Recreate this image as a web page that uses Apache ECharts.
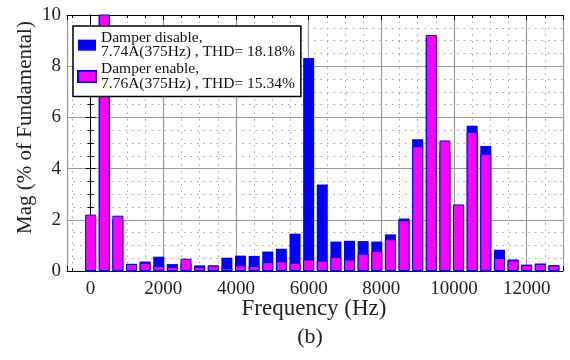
<!DOCTYPE html>
<html>
<head>
<meta charset="utf-8">
<script src="https://cdn.jsdelivr.net/npm/echarts@6/dist/echarts.min.js"></script>
<style>html,body{margin:0;padding:0;background:#fff}#c{width:570px;height:360px}</style>
</head>
<body>
<div id="c"></div>
<script>
// Harmonic frequencies (Hz)
var freqs = [0,375,750,1125,1500,1875,2250,2625,3000,3375,3750,4125,4500,4875,5250,5625,6000,6375,6750,7125,7500,7875,8250,8625,9000,9375,9750,10125,10500,10875,11250,11625,12000,12375,12750];
// Damper disable (% of fundamental)
var disableVals = [0.47,100,1.98,0.28,0.37,0.56,0.27,0.30,0.22,0.22,0.52,0.60,0.59,0.76,0.87,1.46,8.32,3.38,1.15,1.18,1.17,1.15,1.43,2.05,5.15,9.10,4.68,2.26,5.67,4.88,0.83,0.45,0.25,0.29,0.23];
// Damper enable (% of fundamental)
var enableVals = [2.20,100,2.16,0.27,0.32,0.20,0.16,0.48,0.16,0.21,0.11,0.22,0.20,0.35,0.38,0.32,0.45,0.41,0.55,0.45,0.68,0.78,1.24,1.98,4.87,9.22,5.10,2.60,5.44,4.58,0.51,0.42,0.23,0.28,0.22];
var seriesNames = ['Damper disable,\n7.74A(375Hz) , THD= 18.18%', 'Damper enable,\n7.76A(375Hz) , THD= 15.34%'];
var xTicks = [0,2000,4000,6000,8000,10000,12000];
var yTicks = [0,2,4,6,8,10];

var FONT = 'Liberation Serif';
function pairs(vals){ return freqs.map(function(f,i){ return [f, vals[i]]; }); }

var chart = echarts.init(document.getElementById('c'));
var xBase = {
  type:'value', min:-650, max:13000, splitNumber:7, minInterval:2000, maxInterval:2000,
  axisLine:{show:true, onZero:false, lineStyle:{color:'#000', width:1}},
  axisTick:{show:true, inside:true, length:5, lineStyle:{color:'#000'}},
  minorTick:{show:true, splitNumber:4, length:3, lineStyle:{color:'#000'}}
};
var yBase = {
  type:'value', min:0, max:10, interval:2,
  axisLine:{show:true, lineStyle:{color:'#000', width:1}},
  axisTick:{show:true, inside:true, length:5, lineStyle:{color:'#000'}},
  minorTick:{show:true, splitNumber:4, length:3, lineStyle:{color:'#000'}}
};
var option = {
  animation:false,
  backgroundColor:'#fff',
  textStyle:{fontFamily:FONT},
  grid:{left:67, right:7, top:15, bottom:89, containLabel:false},
  xAxis:[
    Object.assign({}, xBase, {
      position:'bottom',
      axisLabel:{show:true, margin:9, color:'#222', fontFamily:FONT, fontSize:19,
        formatter:function(v){ return xTicks.indexOf(v) >= 0 ? String(v) : ''; }},
      splitLine:{show:true, lineStyle:{color:'#9a9a9a', width:1.2}},
      minorSplitLine:{show:true, lineStyle:{color:'#a8a8a8', width:1, type:[1.5,5]}}
    }),
    Object.assign({}, xBase, {position:'top', axisLabel:{show:false}, splitLine:{show:false}})
  ],
  yAxis:[
    Object.assign({}, yBase, {
      position:'left',
      axisLabel:{show:true, margin:6, color:'#222', fontFamily:FONT, fontSize:19,
        formatter:function(v){ return yTicks.indexOf(v) >= 0 ? String(v) : ''; }},
      splitLine:{show:true, lineStyle:{color:'#9a9a9a', width:1.2}},
      minorSplitLine:{show:true, lineStyle:{color:'#a8a8a8', width:1, type:[1.5,5]}}
    }),
    Object.assign({}, yBase, {position:'right', axisLabel:{show:false}, splitLine:{show:false}})
  ],
  legend:{
    show:true, orient:'vertical', left:73, top:26, itemGap:1,
    padding:[4,6,5,4],
    backgroundColor:'#fff', borderColor:'#000', borderWidth:1.5,
    itemWidth:18, itemHeight:11, icon:'rect',
    textStyle:{fontFamily:FONT, fontSize:15.5, color:'#111', lineHeight:14.3, padding:[0,0,0,0]},
    data:seriesNames
  },
  series:[
    {name:seriesNames[0], type:'bar', data:pairs(disableVals), barWidth:11, clip:true,
     itemStyle:{color:'#0000ff'}},
    {name:seriesNames[1], type:'bar', data:pairs(enableVals), barWidth:11, barGap:'-100%', clip:true,
     itemStyle:{color:'#ff00ff', borderColor:'#0000ff', borderWidth:1}}
  ],
  graphic:[
    {type:'text', x:314, y:309, style:{text:'Frequency (Hz)', fontFamily:FONT, fontSize:23, fill:'#222', align:'center', verticalAlign:'middle'}},
    {type:'text', x:310, y:337, style:{text:'(b)', fontFamily:FONT, fontSize:22, fill:'#222', align:'center', verticalAlign:'middle'}},
    {type:'text', x:25, y:127.5, rotation:Math.PI/2, style:{text:'Mag (% of Fundamental)', fontFamily:FONT, fontSize:21, fill:'#222', align:'center', verticalAlign:'middle'}}
  ]
};
chart.setOption(option);
</script>
</body>
</html>
